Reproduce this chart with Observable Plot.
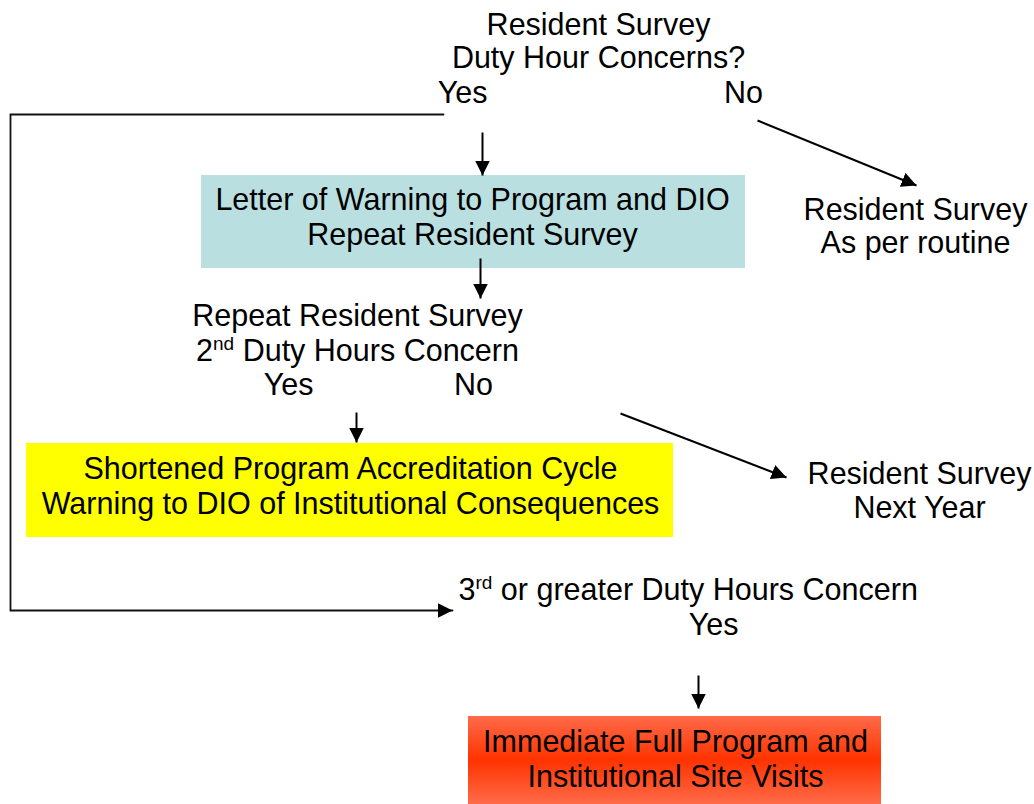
<!DOCTYPE html>
<html>
<head>
<meta charset="utf-8">
<script src="https://cdn.jsdelivr.net/npm/d3@7"></script>
<script src="https://cdn.jsdelivr.net/npm/@observablehq/plot@0.6"></script>
<style>
  html, body { margin: 0; padding: 0; background: #fff; }
</style>
</head>
<body>
<div id="chart"></div>
<script>
// ---- Flowchart content ----
const boxes = [
  {id: "letter",    x1: 201, x2: 745, y1: 175, y2: 268, fill: "#b9dfe1"},
  {id: "shortened", x1: 26,  x2: 673, y1: 443, y2: 537, fill: "#ffff00"},
  {id: "visit",     x1: 468, x2: 881, y1: 716, y2: 804, fill: "url(#redGrad)"}
];

const labels = [
  {text: "Resident Survey",                         x: 598, y: 25,  anchor: "middle"},
  {text: "Duty Hour Concerns?",                     x: 598, y: 58,  anchor: "middle"},
  {text: "Yes",                                     x: 462, y: 93,  anchor: "middle"},
  {text: "No",                                      x: 743, y: 93,  anchor: "middle"},
  {text: "Letter of Warning to Program and DIO",    x: 472, y: 200, anchor: "middle"},
  {text: "Repeat Resident Survey",                  x: 472, y: 235, anchor: "middle"},
  {text: "Resident Survey",                         x: 915, y: 210, anchor: "middle"},
  {text: "As per routine",                          x: 915, y: 243, anchor: "middle"},
  {text: "Repeat Resident Survey",                  x: 357, y: 316, anchor: "middle"},
  {text: "2^nd^ Duty Hours Concern",                x: 357, y: 351, anchor: "middle"},
  {text: "Yes",                                     x: 288, y: 385, anchor: "middle"},
  {text: "No",                                      x: 473, y: 385, anchor: "middle"},
  {text: "Shortened Program Accreditation Cycle",   x: 350, y: 469, anchor: "middle"},
  {text: "Warning to DIO of Institutional Consequences", x: 350, y: 504, anchor: "middle"},
  {text: "Resident Survey",                         x: 919, y: 474, anchor: "middle"},
  {text: "Next Year",                               x: 919, y: 508, anchor: "middle"},
  {text: "3^rd^ or greater Duty Hours Concern",     x: 458, y: 590, anchor: "start"},
  {text: "Yes",                                     x: 713, y: 625, anchor: "middle"},
  {text: "Immediate Full Program and",              x: 675, y: 742, anchor: "middle"},
  {text: "Institutional Site Visits",               x: 675, y: 777, anchor: "middle"}
];

const arrows = [
  {x1: 482, y1: 132, x2: 482, y2: 175},
  {x1: 757, y1: 120, x2: 916, y2: 185},
  {x1: 480, y1: 258, x2: 480, y2: 298},
  {x1: 356, y1: 412, x2: 356, y2: 442},
  {x1: 620, y1: 413, x2: 786, y2: 477},
  {x1: 698, y1: 675, x2: 698, y2: 708}
];

const bracket = [
  {x: 443, y: 114},
  {x: 10,  y: 114},
  {x: 10,  y: 610},
  {x: 452, y: 610}
];

const W = 1034, H = 804;
const FONT = 30.5;

const chart = Plot.plot({
  width: W,
  height: H,
  margin: 0,
  x: {domain: [0, W], range: [0, W], axis: null},
  y: {domain: [0, H], range: [0, H], axis: null},
  style: {fontFamily: "'Liberation Sans', Arial, Helvetica, sans-serif", background: "#fff", overflow: "visible"},
  marks: [
    Plot.rect(boxes, {x1: "x1", x2: "x2", y1: "y1", y2: "y2", fill: d => d.fill}),
    Plot.line(bracket, {x: "x", y: "y", stroke: "#111", strokeWidth: 1.8, curve: "linear"}),
    Plot.link(arrows, {x1: "x1", y1: "y1", x2: "x2", y2: "y2", stroke: "#000", strokeWidth: 2}),
    Plot.text(labels.filter(d => d.anchor === "middle"), {x: "x", y: "y", text: "text", fontSize: FONT, fill: "#000", textAnchor: "middle"}),
    Plot.text(labels.filter(d => d.anchor === "start"), {x: "x", y: "y", text: "text", fontSize: FONT, fill: "#000", textAnchor: "start"})
  ]
});

// fill option given as function would be treated as a channel; ensure literal colors applied
const svg = d3.select(chart);

// defs: gradient and arrowhead marker
const defs = svg.insert("defs", ":first-child");
const grad = defs.append("linearGradient").attr("id", "redGrad").attr("x1", 0).attr("y1", 0).attr("x2", 0).attr("y2", 1);
grad.append("stop").attr("offset", "0%").attr("stop-color", "#ff6b49");
grad.append("stop").attr("offset", "50%").attr("stop-color", "#ff3300");
grad.append("stop").attr("offset", "100%").attr("stop-color", "#ff6b49");

const marker = defs.append("marker")
  .attr("id", "tri")
  .attr("viewBox", "0 -8 16 16")
  .attr("markerWidth", 16)
  .attr("markerHeight", 16)
  .attr("refX", 15)
  .attr("refY", 0)
  .attr("orient", "auto")
  .attr("markerUnits", "userSpaceOnUse");
marker.append("path").attr("d", "M0,-7.5L15,0L0,7.5Z").attr("fill", "#000");

// apply box fills directly (colors are styles, not data encodings)
svg.selectAll('g[aria-label="rect"] rect').each(function(_, i) {
  d3.select(this).attr("fill", boxes[i].fill);
});

svg.selectAll('g[aria-label="link"] path').attr("marker-end", "url(#tri)");
svg.selectAll('g[aria-label="line"] path').attr("marker-end", "url(#tri)").attr("stroke-linejoin", "miter");

// superscripts
svg.selectAll("text").each(function() {
  const el = d3.select(this);
  const t = el.text();
  if (!t.includes("^")) return;
  const [a, sup, b] = t.split("^");
  el.text(null);
  el.append("tspan").text(a);
  el.append("tspan").attr("font-size", 19).attr("dy", -11).text(sup);
  el.append("tspan").attr("dy", 11).text(b);
});

document.getElementById("chart").appendChild(chart);
</script>
</body>
</html>
